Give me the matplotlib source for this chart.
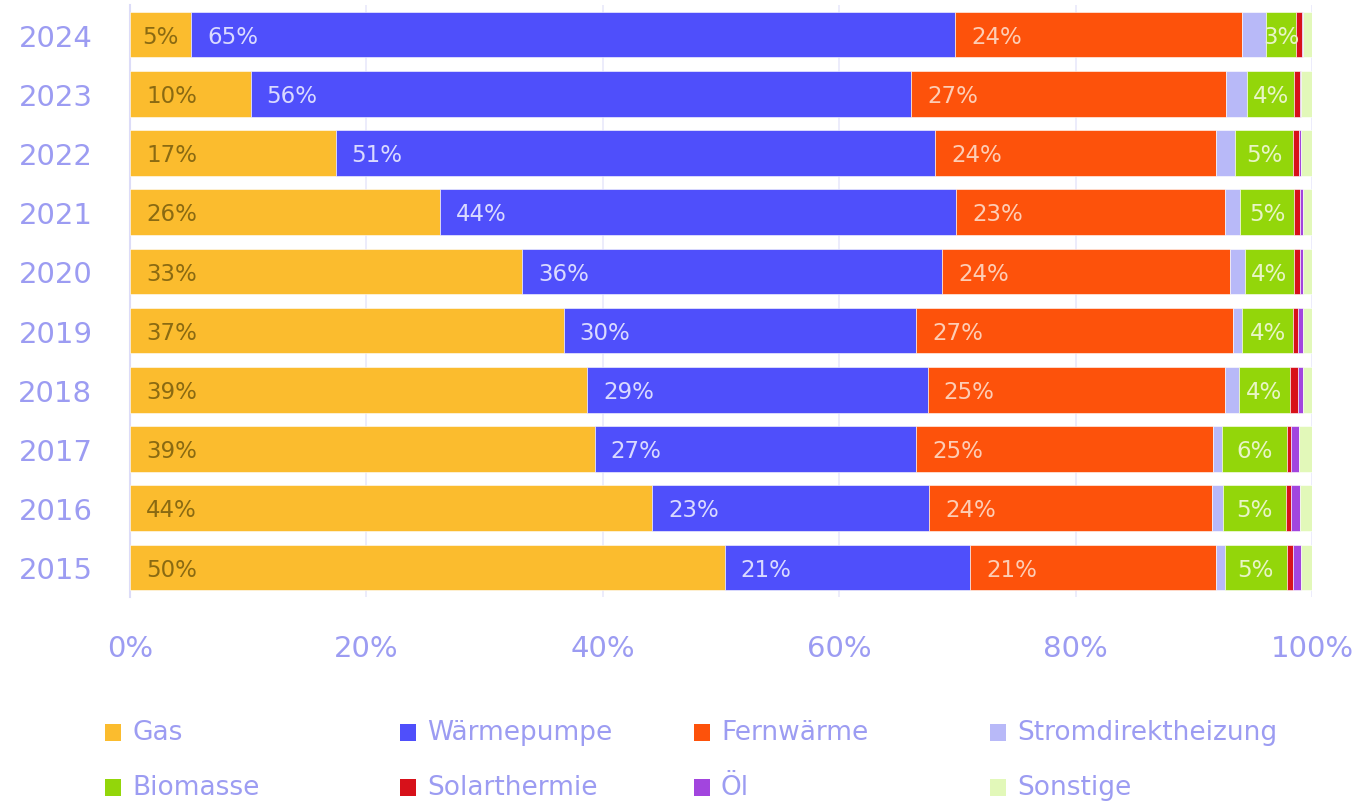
import matplotlib
matplotlib.use("Agg")
import matplotlib.pyplot as plt
from matplotlib.patches import Rectangle
import numpy as np

years = ["2024", "2023", "2022", "2021", "2020", "2019", "2018", "2017", "2016", "2015"]
series = ["Gas", "Wärmepumpe", "Fernwärme", "Stromdirektheizung",
          "Biomasse", "Solarthermie", "Öl", "Sonstige"]
colors = ["#FBBC2E", "#4F4FFB", "#FD520B", "#B8B9F8",
          "#93D60A", "#D7111A", "#A245DE", "#E2F8B9"]

gas          = [5.2, 10.2, 17.4, 26.2, 33.2, 36.7, 38.7, 39.3, 44.2, 50.3]
waermepumpe  = [64.6, 55.9, 50.7, 43.7, 35.5, 29.8, 28.8, 27.2, 23.4, 20.8]
fernwaerme   = [24.3, 26.6, 23.8, 22.7, 24.4, 26.8, 25.1, 25.1, 23.9, 20.8]
strom        = [2.0, 1.8, 1.6, 1.3, 1.2, 0.8, 1.2, 0.8, 1.0, 0.7]
biomasse     = [2.55, 4.0, 4.9, 4.6, 4.2, 4.3, 4.3, 5.5, 5.3, 5.3]
solar        = [0.5, 0.45, 0.5, 0.5, 0.5, 0.4, 0.7, 0.3, 0.4, 0.5]
oel          = [0.1, 0.1, 0.2, 0.2, 0.2, 0.4, 0.4, 0.7, 0.8, 0.7]
sonstige     = [0.75, 0.95, 0.9, 0.8, 0.8, 0.8, 0.8, 1.1, 1.0, 0.9]

values = [gas, waermepumpe, fernwaerme, strom, biomasse, solar, oel, sonstige]
labelled = {"Gas": "#8A6A12", "Wärmepumpe": "#DADAFF",
            "Fernwärme": "#FDCDB5", "Biomasse": "#E8F5C6"}

plt.rcParams["font.family"] = ["DejaVu Sans"]

W, H = 1356, 803
fig = plt.figure(figsize=(W / 100, H / 100), dpi=100)
ax = fig.add_axes([130 / W, 1 - 598 / H, (1312 - 130) / W, (598 - 6) / H])

tick_col = "#9C9CF2"
y = np.arange(len(years))
left = np.zeros(len(years))
for name, col, vals in zip(series, colors, values):
    vals = np.array(vals, dtype=float)
    ax.barh(y, vals, left=left, height=0.77, color=col, edgecolor="white",
            linewidth=0.4, zorder=3)
    if name in labelled:
        for yi, (l, v) in enumerate(zip(left, vals)):
            txt = f"{int(np.floor(v + 0.5)):d}%"
            if v < 8:
                ax.text(l + v / 2, yi + 0.03, txt, ha="center", va="center",
                        fontsize=16.5, color=labelled[name], zorder=4)
            else:
                ax.annotate(txt, (l, yi + 0.03), xytext=(11.5, 0),
                            textcoords="offset points", ha="left", va="center",
                            fontsize=16.5, color=labelled[name], zorder=4)
    left += vals

ax.set_xlim(0, 100)
ax.set_ylim(len(years) - 0.5, -0.5)
ax.set_yticks(y)
ax.set_yticklabels(years)
ax.set_xticks(np.arange(0, 101, 20))
ax.set_xticklabels([f"{t}%" for t in range(0, 101, 20)])
ax.tick_params(axis="both", length=0, labelsize=21, colors=tick_col)
ax.tick_params(axis="x", pad=27)
ax.tick_params(axis="y", pad=27)
ax.grid(axis="x", color="#E9E9FB", linewidth=1.2, zorder=0)
for s in ["top", "right", "bottom"]:
    ax.spines[s].set_visible(False)
ax.spines["left"].set_color("#DCDCF8")
ax.spines["left"].set_linewidth(1.5)

# legend laid out as a 4x2 grid
col_x = [105, 400, 694, 990]
row_y = [733, 788]
for i, (name, col) in enumerate(zip(series, colors)):
    cx = col_x[i % 4]
    cy = row_y[i // 4]
    fig.patches.append(Rectangle((cx / W, 1 - (cy + 8.5) / H), 16 / W, 17 / H,
                                 transform=fig.transFigure, facecolor=col,
                                 edgecolor="none"))
    fig.text((cx + 27) / W, 1 - cy / H, name, ha="left", va="center",
             fontsize=19, color=tick_col)

fig.savefig("out.png", dpi=100, facecolor="white")
